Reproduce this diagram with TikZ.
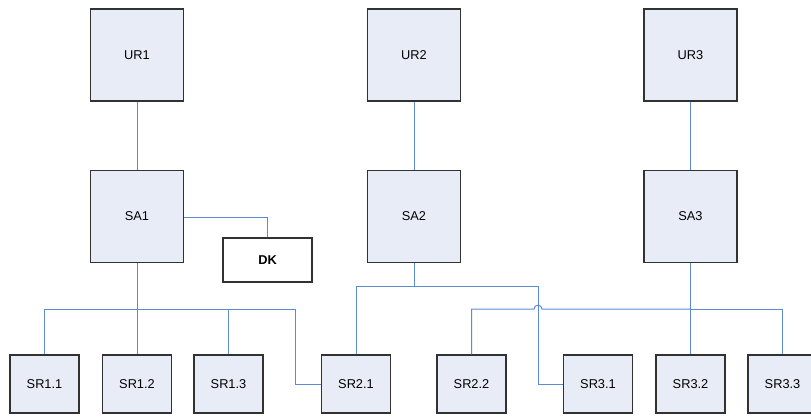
\documentclass[tikz,border=0pt]{standalone}
\usepackage{fontspec}
\usetikzlibrary{calc}
\setmainfont{Liberation Sans}
\definecolor{boxfill}{RGB}{231,236,247}
\definecolor{boxline}{RGB}{50,50,50}
\definecolor{wire}{RGB}{91,139,210}
\tikzset{
  unit/.style={draw=boxline, fill=boxfill, line width=1.1pt, inner sep=0pt,
    font=\fontsize{12.8}{15}\selectfont},
  bigbox/.style={unit, minimum width=93pt, minimum height=92pt},
  smallbox/.style={unit, minimum width=69pt, minimum height=58pt},
  dkbox/.style={draw=boxline, fill=white, line width=1.1pt, inner sep=0pt,
    minimum width=89pt, minimum height=44pt,
    font=\fontsize{12.8}{15}\selectfont\bfseries},
  link/.style={draw=wire, line width=1pt}
}
\begin{document}
\begin{tikzpicture}[x=1pt, y=-1pt]
  \useasboundingbox (0,0) rectangle (811,417);
  \clip (0,0) rectangle (811,417);

  % upper row
  \node[bigbox] (UR1) at (137,55) {UR1};
  \node[bigbox] (UR2) at (414,55) {UR2};
  \node[bigbox] (UR3) at (690.5,55) {UR3};

  % middle row
  \node[bigbox] (SA1) at (137,216.5) {SA1};
  \node[bigbox] (SA2) at (414,216.5) {SA2};
  \node[bigbox] (SA3) at (690.5,216.5) {SA3};
  \node[dkbox] (DK) at (267.5,260) {DK};

  % lower row
  \node[smallbox] (SR11) at (44.5,384) {SR1.1};
  \node[smallbox] (SR12) at (137,384) {SR1.2};
  \node[smallbox] (SR13) at (228.5,384) {SR1.3};
  \node[smallbox] (SR21) at (356,384) {SR2.1};
  \node[smallbox] (SR22) at (471.5,384) {SR2.2};
  \node[smallbox] (SR31) at (598,384) {SR3.1};
  \node[smallbox] (SR32) at (690.5,384) {SR3.2};
  \node[smallbox] (SR33) at (782.5,384) {SR3.3};

  % bus junctions
  \coordinate (b1) at (137,309);
  \coordinate (k1) at (295,309);
  \coordinate (b2) at (414,286);
  \coordinate (k2) at (538,286);
  \coordinate (b3) at (690.5,309);
  \coordinate (h1) at (534,309);
  \coordinate (h2) at (542,309);

  % UR -> SA
  \draw[link] (UR1) -- (SA1);
  \draw[link] (UR2) -- (SA2);
  \draw[link] (UR3) -- (SA3);

  % SA1 -> DK
  \draw[link] (SA1.east |- 0,217) -| (DK.north);

  % SA1 bus
  \draw[link] (SA1) -- (SR12);
  \draw[link] (SR11.north) |- (b1);
  \draw[link] (SR13.north) |- (b1);
  \draw[link] (b1) -- (k1) |- (SR21.west);

  % SA2 bus
  \draw[link] (SA2.south) -- (b2);
  \draw[link] (SR21.north) |- (b2);
  \draw[link] (b2) -- (k2) |- (SR31.west);

  % SA3 bus, hopping over the SA2 line
  \draw[link] (SA3) -- (SR32);
  \draw[link] (SR33.north) |- (b3);
  \draw[link] (SR22.north) |- (h1)
    .. controls ($(h1)+(0,-5)$) and ($(h2)+(0,-5)$) .. (h2) -- (b3);
\end{tikzpicture}
\end{document}
